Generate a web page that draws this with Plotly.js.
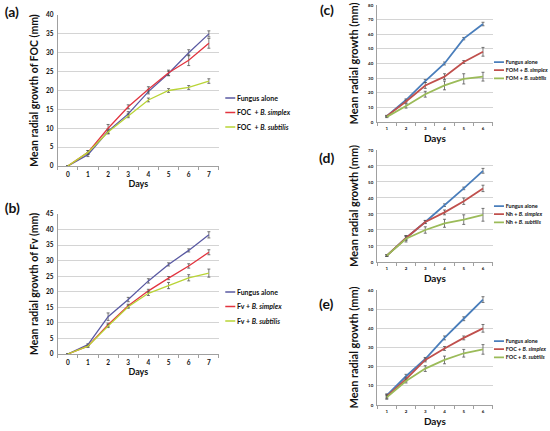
<!DOCTYPE html>
<html>
<head>
<meta charset="utf-8">
<script src="https://cdn.plot.ly/plotly-3.0.1.min.js"></script>
<style>
  html, body { margin: 0; padding: 0; overflow: hidden; background: #fff; }
  /* drawn at 3x and shrunk, so the small legends can sit as tight as the original */
  #chart { width: 1650px; height: 1293px; transform: scale(0.333333); transform-origin: 0 0; }
</style>
</head>
<body>
<div id="chart"></div>
<script>
// ---- data ----
const daysLeft = [0, 1, 2, 3, 4, 5, 6, 7];
const daysRight = [1, 2, 3, 4, 5, 6];

// (a) FOC
const focFungus = [0, 3, 9.2, 13.8, 19.7, 24.5, 30, 35];
const focFungusErr = [0, 0.5, 0.6, 0.6, 0.6, 0.6, 0.8, 0.8];
const focSimplex = [0, 3.6, 10, 15.7, 20.3, 24.7, 28, 32.5];
const focSimplexErr = [0, 0.5, 1.0, 0.5, 0.7, 0.7, 1.4, 1.3];
const focSubtilis = [0, 3.6, 9, 13.3, 17.5, 20, 20.8, 22.5];
const focSubtilisErr = [0, 0.5, 0.5, 0.5, 0.5, 0.5, 0.5, 0.6];

// (b) Fv
const fvFungus = [0, 3, 12, 17.5, 23.5, 28.8, 33.3, 38.3];
const fvFungusErr = [0, 0.3, 1.2, 0.7, 0.7, 0.5, 0.5, 1.0];
const fvSimplex = [0, 2.5, 9.4, 15.5, 20.3, 24.4, 28.3, 32.7];
const fvSimplexErr = [0, 0.3, 0.5, 0.5, 0.5, 0.5, 0.7, 0.8];
const fvSubtilis = [0, 2.5, 9, 15.2, 19.5, 22, 24.5, 26];
const fvSubtilisErr = [0, 0.3, 0.5, 0.5, 0.7, 1.0, 1.0, 1.3];

// (c) FOM
const fomFungus = [4, 15, 28, 40, 57, 67];
const fomFungusErr = [0.5, 0.8, 1, 1, 0.8, 1.2];
const fomSimplex = [4, 14, 25, 31, 41, 48];
const fomSimplexErr = [0.5, 1, 2, 2, 1, 3];
const fomSubtilis = [3.5, 11, 19, 25, 29.5, 31];
const fomSubtilisErr = [0.5, 1.5, 2, 3, 3.5, 3];

// (d) Nh
const nhFungus = [4, 15, 25, 35.5, 46, 57];
const nhFungusErr = [0.5, 1, 0.8, 0.8, 0.8, 1.5];
const nhSimplex = [4, 15, 25, 31, 38, 46];
const nhSimplexErr = [0.5, 1.5, 1, 1.5, 2, 2];
const nhSubtilis = [4, 14.5, 20, 24.2, 26.5, 29.5];
const nhSubtilisErr = [0.5, 2, 2, 2.5, 3, 4];

// (e) FOC, second test
const foc2Fungus = [5, 15, 24, 35, 45, 55];
const foc2FungusErr = [0.8, 1, 0.8, 1, 1, 1.5];
const foc2Simplex = [4.5, 13.5, 23.5, 29.5, 35, 40];
const foc2SimplexErr = [1, 1, 1, 1, 1, 2];
const foc2Subtilis = [4, 12.5, 19, 23.5, 27, 29];
const foc2SubtilisErr = [1, 1, 1.5, 2, 2, 2.5];

const namesA = ['Fungus alone', 'FOC  + <i>B. simplex</i>', 'FOC  + <i>B. subtilis</i>'];
const namesB = ['Fungus alone', 'Fv + <i>B. simplex</i>', 'Fv + <i>B. subtilis</i>'];
const namesC = ['Fungus alone', 'FOM + <i>B. simplex</i>', 'FOM + <i>B. subtilis</i>'];
const namesD = ['Fungus alone', 'Nh + <i>B. simplex</i>', 'Nh + <i>B. subtilis</i>'];
const namesE = ['Fungus alone', 'FOC + <i>B. simplex</i>', 'FOC + <i>B. subtilis</i>'];

// ---- look ----
const S = 3;            // render scale
const W = 550, H = 431; // final picture size
const FONT = 'Lato, "Open Sans", sans-serif';
const colorsLeft = ['#5a5aa2', '#e2343f', '#b9d436'];
const colorsRight = ['#4a7ebb', '#c0504d', '#9bbb59'];

// box = [left, top, right, bottom] in final pixels
let panels = [
    {days: daysLeft, ys: [focFungus, focSimplex, focSubtilis],
     errs: [focFungusErr, focSimplexErr, focSubtilisErr], names: namesA,
     colors: colorsLeft, lw: 1.3, box: [58, 15, 220, 166], yMax: 40, yStep: 5,
     yTitle: 'Mean radial growth of FOC (mm)', yTitleSize: 10.5, yStandoff: 5,
     tickSize: 6.5, xTitleSize: 9, xStandoff: 2,
     legend: [224.7, 91.3], legendSize: 7, legendGap: 4.4,
     label: '(a)', labelPos: [4, 12]},
    {days: daysLeft, ys: [fvFungus, fvSimplex, fvSubtilis],
     errs: [fvFungusErr, fvSimplexErr, fvSubtilisErr], names: namesB,
     colors: colorsLeft, lw: 1.3, box: [58, 214, 220, 354], yMax: 45, yStep: 5,
     yTitle: 'Mean radial growth of Fv (mm)', yTitleSize: 10.5, yStandoff: 5,
     tickSize: 6.5, xTitleSize: 9, xStandoff: 2,
     legend: [224.7, 285.3], legendSize: 7, legendGap: 4.4,
     label: '(b)', labelPos: [4, 208]},
    {days: daysRight, ys: [fomFungus, fomSimplex, fomSubtilis],
     errs: [fomFungusErr, fomSimplexErr, fomSubtilisErr], names: namesC,
     colors: colorsRight, lw: 1.8, box: [379, 5, 495, 122], yMax: 80, yStep: 10,
     yTitle: 'Mean radial growth (mm)', yTitleSize: 11, yStandoff: 7,
     tickSize: 4.5, xTitleSize: 10, xStandoff: 4,
     legend: [494.7, 56.3], legendSize: 5.5, legendGap: 0,
     label: '(c)', labelPos: [321, 10]},
    {days: daysRight, ys: [nhFungus, nhSimplex, nhSubtilis],
     errs: [nhFungusErr, nhSimplexErr, nhSubtilisErr], names: namesD,
     colors: colorsRight, lw: 1.8, box: [379, 150, 495, 262], yMax: 70, yStep: 10,
     yTitle: 'Mean radial growth (mm)', yTitleSize: 11, yStandoff: 7,
     tickSize: 4.5, xTitleSize: 10, xStandoff: 4,
     legend: [494.7, 200.3], legendSize: 5.5, legendGap: 0,
     label: '(d)', labelPos: [320, 158]},
    {days: daysRight, ys: [foc2Fungus, foc2Simplex, foc2Subtilis],
     errs: [foc2FungusErr, foc2SimplexErr, foc2SubtilisErr], names: namesE,
     colors: colorsRight, lw: 1.8, box: [379, 290, 495, 405], yMax: 60, yStep: 10,
     yTitle: 'Mean radial growth (mm)', yTitleSize: 11, yStandoff: 7,
     tickSize: 4.5, xTitleSize: 10, xStandoff: 4,
     legend: [494.7, 335.3], legendSize: 5.5, legendGap: 0,
     label: '(e)', labelPos: [320, 304]}
];

let data = [];
let layout = {
    width: W * S,
    height: H * S,
    margin: {l: 0, r: 0, t: 0, b: 0},
    paper_bgcolor: '#fff',
    plot_bgcolor: '#fff',
    font: {family: FONT, color: '#111', weight: 'bold'},
    annotations: []
};

panels.forEach(function (p, i) {
    let n = i === 0 ? '' : String(i + 1);
    let legendId = 'legend' + n;

    // three series per panel
    p.ys.forEach(function (y, k) {
        data.push({
            x: p.days,
            y: y,
            name: p.names[k],
            type: 'scatter',
            mode: 'lines',
            xaxis: 'x' + n,
            yaxis: 'y' + n,
            legend: legendId,
            legendgroup: 'g' + i + '_' + k,
            line: {color: p.colors[k], width: p.lw * S},
            error_y: {type: 'data', array: p.errs[k], visible: true,
                      color: '#555', thickness: 0.8 * S, width: 1.5 * S}
        });
    });

    let first = p.days[0], last = p.days[p.days.length - 1];

    layout['xaxis' + n] = {
        domain: [p.box[0] / W, p.box[2] / W],
        anchor: 'y' + n,
        range: [first - 0.5, last + 0.5],
        tickvals: p.days,
        ticks: '',
        showgrid: false,
        zeroline: false,
        showline: true,
        linecolor: '#a0a0a0',
        linewidth: S,
        minor: {tick0: first - 0.5, dtick: 1, ticks: 'outside', ticklen: 3 * S,
                tickwidth: S, tickcolor: '#a0a0a0', showgrid: false},
        tickfont: {size: p.tickSize * S, family: FONT, weight: 'bold'},
        ticklabelstandoff: 2 * S,
        title: {text: 'Days', font: {size: p.xTitleSize * S, family: FONT, weight: 'bold'},
                standoff: p.xStandoff * S},
        fixedrange: true
    };

    layout['yaxis' + n] = {
        domain: [1 - p.box[3] / H, 1 - p.box[1] / H],
        anchor: 'x' + n,
        range: [0, p.yMax],
        dtick: p.yStep,
        ticks: '',
        showgrid: true,
        gridcolor: '#d4d4d4',
        gridwidth: S,
        zeroline: false,
        showline: true,
        linecolor: '#a0a0a0',
        linewidth: S,
        tickfont: {size: p.tickSize * S, family: FONT, weight: 'bold'},
        ticklabelstandoff: 2 * S,
        title: {text: p.yTitle, font: {size: p.yTitleSize * S, family: FONT, weight: 'bold'},
                standoff: p.yStandoff * S},
        fixedrange: true
    };

    layout[legendId] = {
        x: p.legend[0] / W,
        y: 1 - p.legend[1] / H,
        xanchor: 'left',
        yanchor: 'top',
        bgcolor: 'rgba(0,0,0,0)',
        borderwidth: 0,
        tracegroupgap: p.legendGap * S,
        font: {size: p.legendSize * S, family: FONT, weight: 'bold'}
    };

    layout.annotations.push({
        text: p.label,
        xref: 'paper', yref: 'paper',
        x: p.labelPos[0] / W, y: 1 - p.labelPos[1] / H,
        xanchor: 'left', yanchor: 'middle',
        showarrow: false,
        font: {size: 14 * S, family: FONT, weight: 'bold', color: '#111'}
    });
});

let config = {displayModeBar: false, staticPlot: true};

Plotly.newPlot(document.getElementById('chart'), data, layout, config);
</script>
</body>
</html>
